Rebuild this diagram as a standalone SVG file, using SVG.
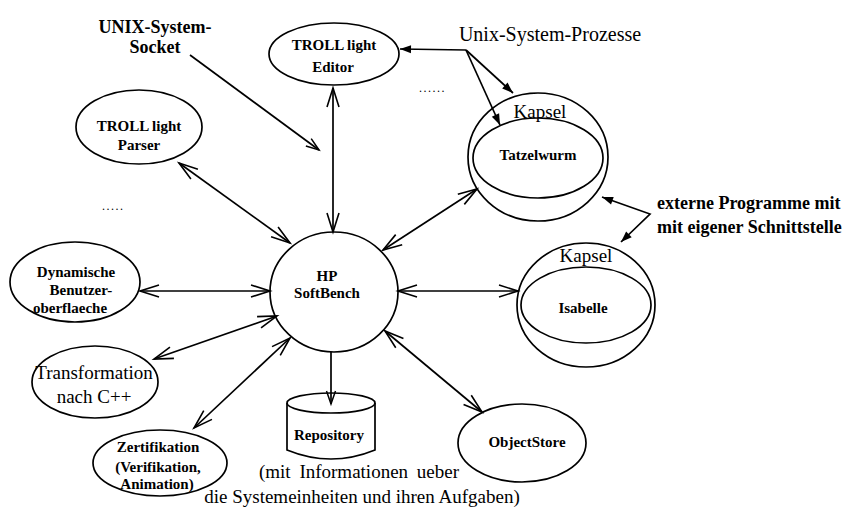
<svg xmlns="http://www.w3.org/2000/svg" width="845" height="516" viewBox="0 0 845 516">
<style>
.shape{fill:none;stroke:#000;stroke-width:1.7}
.conn{fill:none;stroke:#000;stroke-width:1.7}
.lbl{font-family:"Liberation Serif","Times New Roman",serif;font-size:15px;font-weight:bold;text-anchor:middle;fill:#000}
.big{font-family:"Liberation Serif","Times New Roman",serif;font-size:19px;text-anchor:middle;fill:#000}
.note{font-family:"Liberation Serif","Times New Roman",serif;font-size:18px;font-weight:bold;fill:#000}
.proc{font-family:"Liberation Serif","Times New Roman",serif;font-size:20px;text-anchor:middle;fill:#000}
.dots{font-family:"Liberation Serif","Times New Roman",serif;font-size:12px;letter-spacing:1.5px;fill:#000}
</style>
<defs>
<marker id="ah" markerUnits="userSpaceOnUse" markerWidth="22" markerHeight="14" viewBox="0 0 22 14" refX="19" refY="7" orient="auto-start-reverse" overflow="visible">
<path d="M0,1 L19,7 L0,13" fill="none" stroke="#000" stroke-width="1.6"/>
</marker>
<marker id="ahs" markerUnits="userSpaceOnUse" markerWidth="14" markerHeight="10" viewBox="0 0 14 10" refX="13" refY="5" orient="auto-start-reverse" overflow="visible">
<path d="M0,0.5 L13,5 L0,9.5" fill="none" stroke="#000" stroke-width="1.5"/>
</marker>
<marker id="af" markerUnits="userSpaceOnUse" markerWidth="12" markerHeight="8" viewBox="0 0 12 8" refX="11" refY="4" orient="auto-start-reverse" overflow="visible">
<path d="M0,0 L11,4 L0,8 Z" fill="#000"/>
</marker>
</defs>

<g id="connectors">
<line class="conn" x1="190" y1="55" x2="319" y2="150" marker-end="url(#ahs)"/>
<line class="conn" x1="333" y1="88" x2="333" y2="232" marker-start="url(#ah)" marker-end="url(#ah)"/>
<line class="conn" x1="179" y1="163" x2="290" y2="243" marker-start="url(#ah)" marker-end="url(#ah)"/>
<line class="conn" x1="140" y1="291" x2="270" y2="291" marker-start="url(#ah)" marker-end="url(#ah)"/>
<line class="conn" x1="154" y1="359" x2="277" y2="316" marker-start="url(#ah)" marker-end="url(#ah)"/>
<line class="conn" x1="194" y1="428" x2="290" y2="338" marker-start="url(#ah)" marker-end="url(#ah)"/>
<line class="conn" x1="331" y1="352" x2="331" y2="404" marker-end="url(#ahs)"/>
<line class="conn" x1="385" y1="331" x2="482" y2="412" marker-start="url(#ah)" marker-end="url(#ah)"/>
<line class="conn" x1="398" y1="291" x2="518" y2="291" marker-start="url(#ah)" marker-end="url(#ah)"/>
<line class="conn" x1="383" y1="250" x2="477" y2="189" marker-start="url(#ah)" marker-end="url(#ah)"/>
<line class="conn" x1="466" y1="50" x2="400" y2="49" marker-end="url(#af)"/>
<line class="conn" x1="466" y1="50" x2="513" y2="93" marker-end="url(#af)"/>
<line class="conn" x1="466" y1="50" x2="500" y2="125" marker-end="url(#af)"/>
<polyline class="conn" points="602,197 650,214 621,242" marker-start="url(#af)" marker-end="url(#af)"/>
</g>

<g id="hp">
<ellipse class="shape" cx="334" cy="292" rx="64" ry="60"/>
<text class="lbl" x="327" y="281">HP</text>
<text class="lbl" x="327" y="298">SoftBench</text>
</g>

<g id="editor">
<ellipse class="shape" cx="334" cy="54" rx="65" ry="31"/>
<text class="lbl" x="334" y="50">TROLL light</text>
<text class="lbl" x="333" y="72">Editor</text>
</g>

<g id="parser">
<ellipse class="shape" cx="139" cy="127" rx="63" ry="37"/>
<text class="lbl" x="139" y="131">TROLL light</text>
<text class="lbl" x="139" y="150">Parser</text>
</g>

<g id="dynamische">
<ellipse class="shape" cx="75" cy="282" rx="65" ry="40"/>
<text class="lbl" x="76" y="277">Dynamische</text>
<text class="lbl" x="81" y="295">Benutzer-</text>
<text class="lbl" x="70" y="313">oberflaeche</text>
</g>

<g id="transformation">
<ellipse class="shape" cx="95" cy="382" rx="63" ry="36"/>
<text class="big" x="94" y="379">Transformation</text>
<text class="big" x="94" y="403">nach C++</text>
</g>

<g id="zertifikation">
<ellipse class="shape" cx="160" cy="463" rx="67" ry="33"/>
<text class="lbl" x="158" y="452">Zertifikation</text>
<text class="lbl" x="158" y="472">(Verifikation,</text>
<text class="lbl" x="157" y="489">Animation)</text>
</g>

<g id="repository">
<path class="shape" d="M287,403 L287,450 Q331,468 375,450 L375,403"/>
<ellipse class="shape" cx="331" cy="403" rx="44" ry="10"/>
<text class="lbl" x="329" y="440">Repository</text>
</g>

<g id="objectstore">
<ellipse class="shape" cx="522" cy="443" rx="64" ry="39"/>
<text class="lbl" x="527" y="447">ObjectStore</text>
</g>

<g id="tatzelwurm">
<ellipse class="shape" cx="538" cy="157" rx="70" ry="64"/>
<ellipse class="shape" cx="538" cy="158" rx="65" ry="40"/>
<text class="big" x="540" y="118">Kapsel</text>
<text class="lbl" x="538" y="160">Tatzelwurm</text>
</g>

<g id="isabelle">
<ellipse class="shape" cx="586" cy="305" rx="69" ry="62"/>
<ellipse class="shape" cx="586" cy="305" rx="65" ry="38"/>
<text class="big" x="586" y="262">Kapsel</text>
<text class="lbl" x="583" y="313">Isabelle</text>
</g>

<g id="labels">
<text class="note" x="155" y="33" text-anchor="middle">UNIX-System-</text>
<text class="note" x="155" y="53" text-anchor="middle">Socket</text>
<text class="proc" x="550" y="41">Unix-System-Prozesse</text>
<text class="note" x="657" y="209">externe Programme mit</text>
<text class="note" x="657" y="233">mit eigener Schnittstelle</text>
<text class="big" x="359" y="478" word-spacing="4">(mit Informationen ueber</text>
<text class="big" x="362" y="503">die Systemeinheiten und ihren Aufgaben)</text>
<text class="dots" x="102" y="210">.....</text>
<text class="dots" x="419" y="92">......</text>
</g>
</svg>
